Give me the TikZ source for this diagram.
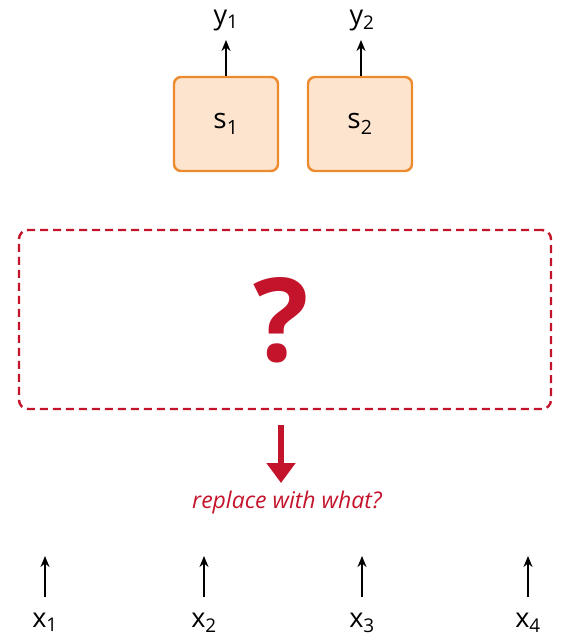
\documentclass[tikz,border=0pt]{standalone}
\usepackage{fontspec}
\setmainfont{Open Sans}
\usetikzlibrary{arrows.meta}
\definecolor{boxfill}{HTML}{FCE4CF}
\definecolor{boxline}{HTML}{EE8A2E}
\definecolor{qred}{HTML}{C4142B}
\tikzset{
  sbox/.style={draw=boxline, fill=boxfill, line width=2.4pt, rounded corners=7pt, minimum width=104pt, minimum height=94pt, inner sep=0pt, font=\fontsize{28}{30}\selectfont},
  lbl/.style={inner sep=0pt, font=\fontsize{27}{29}\selectfont},
  blk/.style={-{Stealth[length=11pt,width=9pt]}, line width=1.8pt, black},
}
\begin{document}
\begin{tikzpicture}[x=1pt,y=1pt]
\useasboundingbox (0,0) rectangle (564,-638);
% top boxes
\node[sbox] (s1) at (226,-124) {s\textsubscript{1}};
\node[sbox] (s2) at (360,-124) {s\textsubscript{2}};
\node[lbl, anchor=base] (y1) at (226,-24) {y\textsubscript{1}};
\node[lbl, anchor=base] (y2) at (362,-24) {y\textsubscript{2}};
\coordinate (t1top) at (226,-40);
\coordinate (t2top) at (361,-40);
\draw[blk] (s1.north) -- (t1top);
\draw[blk] (s1.north -| t2top) -- (t2top);
% dashed box
\node[draw=qred, dashed, dash pattern=on 8pt off 5pt, line width=2.4pt, rounded corners=9pt, minimum width=532pt, minimum height=179pt, inner sep=0pt] (q) at (285,-319.5) {};
\node[text=qred, inner sep=0pt, font=\fontsize{116}{120}\bfseries\selectfont] (qm) at (281,-320) {?};
% red arrow
\coordinate (ra) at (281,-425);
\coordinate (rb) at (281,-483);
\node[inner sep=0pt, text=qred, font=\fontsize{23}{26}\itshape\selectfont] (rt) at (287,-503) {replace with what?};
\draw[-{Triangle[length=20pt,width=28pt]}, line width=6pt, qred] (ra) -- (rb);
% bottom
\foreach \i/\xx in {1/45,2/204,3/362,4/528}{
  \node[lbl, anchor=base] (x\i) at (\xx,-627) {x\textsubscript{\i}};
  \coordinate (b\i) at (\xx,-597);
  \coordinate (t\i) at (\xx,-556);
  \draw[blk] (b\i) -- (t\i);
}
\end{tikzpicture}
\end{document}
